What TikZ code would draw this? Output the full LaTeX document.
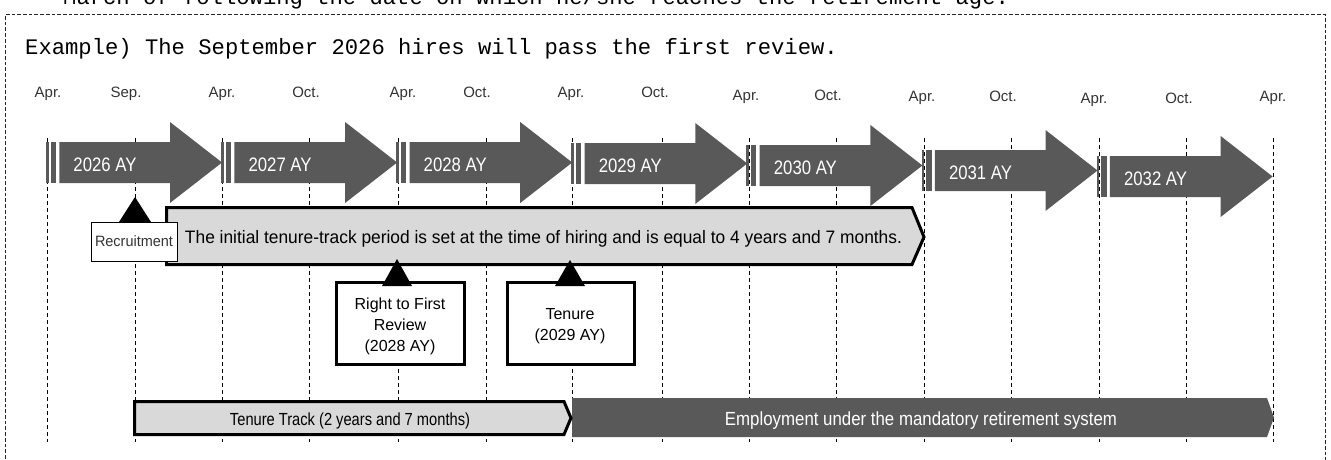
\documentclass[tikz,border=0pt]{standalone}
\usepackage{fontspec}
\setmainfont{Liberation Sans}
\newfontfamily\monof{Liberation Mono}
\definecolor{arrowgray}{HTML}{595959}
\definecolor{bandgray}{HTML}{D9D9D9}
\definecolor{labgray}{HTML}{333333}
\newcommand\fitw[2]{\resizebox{#1}{\height}{#2}}
\begin{document}
\begin{tikzpicture}[x=1pt,y=-1pt,
  vline/.style={black, line width=0.9pt, dash pattern=on 4pt off 3pt},
  frameline/.style={black!85, line width=1pt, dash pattern=on 3.7pt off 2pt},
  month/.style={inner sep=0, anchor=base, text=labgray, font=\fontsize{15}{16}\selectfont},
  yearlab/.style={inner sep=0, text=white},
  thickbox/.style={draw=black, line width=3pt, fill=white, inner sep=0},
  band/.style={draw=black, line width=3pt, fill=bandgray},
  marker/.style={fill=black, draw=none},
  plain/.style={inner sep=0, anchor=base},
  boxtext/.style={inner sep=0, anchor=base, font=\fontsize{16}{18}\selectfont}
]
\useasboundingbox (0,0) rectangle (1331,460);
\clip (0,0) rectangle (1331,460);

% top (cut) line and frame
\node[plain, anchor=base west, font=\monof\fontsize{22.2}{24}\selectfont] (toptext) at (63,4.5)
  {March of following the date on which he/she reaches the retirement age.};
\draw[frameline] (5,470) -- (5,15) -- (1325,15) -- (1325,470);
\node[plain, anchor=base west, font=\monof\fontsize{22.2}{24}\selectfont] (heading) at (25,55)
  {Example) The September 2026 hires will pass the first review.};

% vertical dashed guides
\foreach \x in {47,135,222,309,398,486,572,662,749,836,924,1011,1099,1186,1273}
  \draw[vline] (\x,138) -- (\x,442);

% month labels
\foreach \x/\y/\t [count=\i] in {48/97/Apr., 126/97/Sep., 222/97/Apr., 306/97/Oct., 403/97/Apr.,
   477/97/Oct., 571/98/Apr., 655/98/Oct., 746/100/Apr., 828/100/Oct., 922/101/Apr.,
   1003/102/Oct., 1094/103/Apr., 1179/103/Oct., 1273/102/Apr.}
  \node[month] (m\i) at (\x,\y) {\t};

% year arrows
\foreach \k/\d/\yr in {0/0/2026, 1/0/2027, 2/0/2028, 3/1/2029, 4/3/2030, 5/8/2031, 6/14/2032} {
  \pgfmathsetmacro\xo{47+175.1*\k}
  \begin{scope}[shift={(\xo,\d)}]
    \fill[arrowgray] (-1,142) rectangle (1.7,183);
    \fill[arrowgray] (3.7,142) rectangle (9,183);
    \fill[arrowgray] (12.3,142) -- (123,142) -- (123,122) -- (175,162.5) -- (123,203)
      -- (123,183) -- (12.3,183) -- cycle;
    \node[yearlab] (y\yr) at (58,165) {\fitw{63pt}{\fontsize{19.5}{21}\selectfont\yr\ AY}};
  \end{scope}
}

% initial tenure-track period band
\draw[band] (166.5,207.5) -- (912,207.5) -- (924,237) -- (912,264.5) -- (166.5,264.5) -- cycle;
\node[plain] (bandtext) at (543.5,243)
  {\fitw{717pt}{\fontsize{18}{20}\selectfont The initial tenure-track period is set at the time of hiring and is equal to 4 years and 7 months.}};

% recruitment
\fill[marker] (135,197) -- (151,222) -- (119,222) -- cycle;
\node[draw=black, line width=0.8pt, fill=white, minimum width=86pt, minimum height=39pt, inner sep=0,
  text=labgray] (recruit) at (134,241.5) {\fitw{78pt}{\fontsize{15}{16}\selectfont Recruitment}};

% right to first review
\node[thickbox, minimum width=128pt, minimum height=82pt] (review) at (400.5,323.5) {};
\fill[marker] (397,259) -- (412,286) -- (382,286) -- cycle;
\node[boxtext] (rv1) at (400,309) {Right to First};
\node[boxtext] (rv2) at (400,330) {Review};
\node[boxtext] (rv3) at (400,351) {(2028 AY)};

% tenure
\node[thickbox, minimum width=127pt, minimum height=82pt] (tenure) at (571,323.5) {};
\fill[marker] (570,260) -- (585,286) -- (555,286) -- cycle;
\node[boxtext] (tn1) at (570,319) {Tenure};
\node[boxtext] (tn2) at (570,340) {(2029 AY)};

% employment bar
\fill[arrowgray] (572,398) -- (1267,398) -- (1274,417.5) -- (1267,437) -- (572,437) -- cycle;
\node[plain, text=white] (emptext) at (921,425)
  {\fitw{392pt}{\fontsize{19}{21}\selectfont Employment under the mandatory retirement system}};

% tenure track bar
\draw[band] (134.5,401.5) -- (564,401.5) -- (571,418) -- (564,434.5) -- (134.5,434.5) -- cycle;
\node[plain] (tttext) at (350,425)
  {\fitw{240pt}{\fontsize{17.5}{19}\selectfont Tenure Track (2 years and 7 months)}};
\end{tikzpicture}
\end{document}
